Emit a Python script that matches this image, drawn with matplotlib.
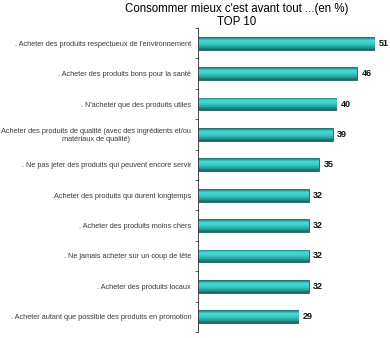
import matplotlib

matplotlib.use("Agg")
import matplotlib.pyplot as plt  # noqa: E402
import numpy as np  # noqa: E402
from matplotlib.colors import LinearSegmentedColormap  # noqa: E402

plt.rcParams["font.family"] = ["Liberation Sans", "DejaVu Sans"]

labels = [
    ". Acheter des produits respectueux de l'environnement",
    ". Acheter des produits bons pour la santé",
    ". N'acheter que des produits utiles",
    "Acheter des produits de qualité (avec des ingrédients et/ou\nmatériaux de qualité)",
    ". Ne pas jeter des produits qui peuvent encore servir",
    ".Acheter des produits qui durent longtemps",
    ". Acheter des produits moins chers",
    ". Ne jamais acheter sur un coup de tête",
    ". Acheter des produits locaux",
    ". Acheter autant que possible des produits en promotion",
]
values = [51, 46, 40, 39, 35, 32, 32, 32, 32, 29]

bar_h = 0.42
# cylinder shading, top to bottom
shade = LinearSegmentedColormap.from_list(
    "teal", ["#1b6663", "#45dcd7", "#3acdc8", "#28a5a1", "#186461"]
)
grad = np.linspace(0, 1, 64).reshape(-1, 1)

fig = plt.figure(figsize=(3.9, 3.38), dpi=100)
ax = fig.add_axes([0.508, 0.018, 0.487, 0.899])

y = np.arange(len(values))
bars = ax.barh(y, values, height=bar_h, color="#2fb8b3", edgecolor="#1a5f5c", linewidth=0.6)
for b, yi, v in zip(bars, y, values):
    im = ax.imshow(grad, cmap=shade, aspect="auto", interpolation="bilinear",
                   extent=[0, v, yi + bar_h / 2, yi - bar_h / 2], zorder=2)
    im.set_clip_path(b)
    ax.text(v + 1.3, yi, str(v), va="center", ha="left", fontsize=6.5,
            fontweight="bold", color="#111111")

ax.set_xlim(0, 55)
ax.set_ylim(len(values) - 0.5, -0.5)

ax.set_yticks(y)
ax.set_yticklabels(labels, fontsize=5.3, color="#3a3a3a")
for t in ax.get_yticklabels():
    t.set_multialignment("center")
ax.tick_params(axis="y", which="major", length=0, pad=5)
ax.set_yticks(np.arange(len(values) + 1) - 0.5, minor=True)
ax.tick_params(axis="y", which="minor", length=2.5, width=0.6, color="#444444")
ax.set_xticks([])

for side in ("top", "right", "bottom"):
    ax.spines[side].set_visible(False)
ax.spines["left"].set_linewidth(0.7)
ax.spines["left"].set_color("#444444")

fig.text(0.608, 0.973, "Consommer mieux c'est avant tout ...(en %)", ha="center",
         va="center", fontsize=8.3)
fig.text(0.608, 0.934, "TOP 10", ha="center", va="center", fontsize=8.3)

fig.savefig("out.png", dpi=100)
plt.close(fig)
